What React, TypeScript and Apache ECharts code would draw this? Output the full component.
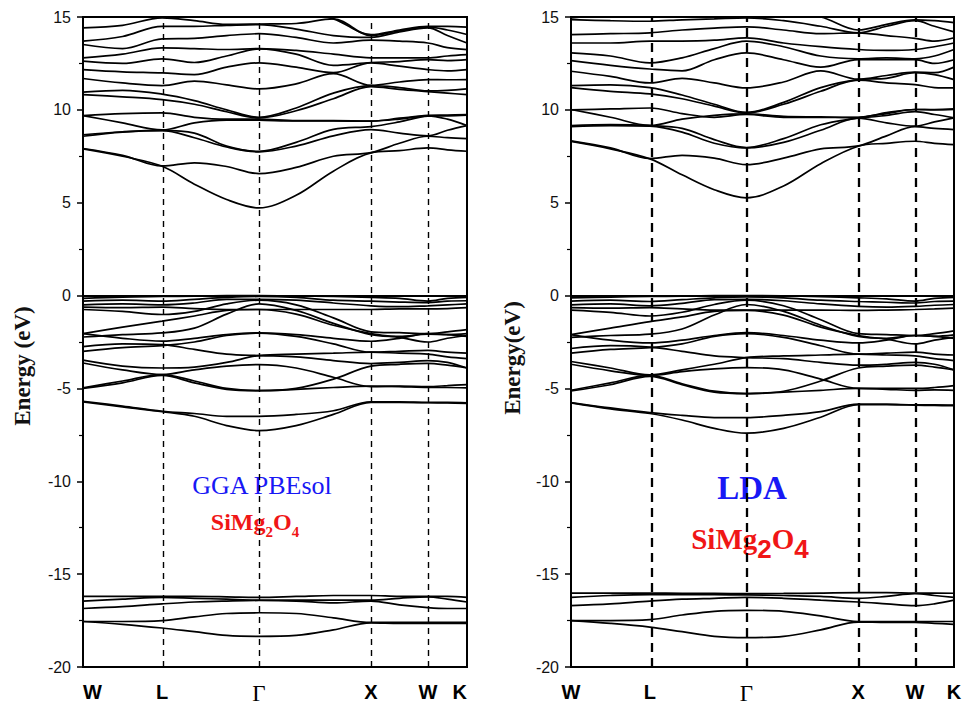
import React, { useEffect, useRef } from "react";
import * as echarts from "echarts";

// k-path sample positions (fraction of path length W-L-Γ-X-W-K)
const kPts = [0, 0.103, 0.206, 0.29, 0.374, 0.458, 0.555, 0.652, 0.75, 0.824, 0.898, 0.949, 1.0];
const symPts = [0, 0.206, 0.458, 0.75, 0.898, 1.0];
const symLabels = ["W", "L", "Γ", "X", "W", "K"];

// ---------- GGA PBEsol (left panel) ----------
const ggaCond = [
  [7.9, 7.5, 6.96, 6.0, 5.17, 4.72, 5.4, 6.7, 7.68, 7.8, 7.95, 7.85, 7.77],
  [7.92, 7.55, 6.98, 7.15, 6.95, 6.57, 6.9, 7.5, 7.7, 8.2, 8.58, 8.5, 8.45],
  [8.58, 8.8, 8.88, 8.5, 8.0, 7.74, 8.05, 8.6, 8.94, 8.75, 8.6, 8.9, 9.15],
  [8.66, 8.82, 8.9, 8.75, 8.05, 7.76, 8.25, 8.95, 9.1, 9.35, 9.66, 9.68, 9.72],
  [9.69, 9.3, 8.92, 9.3, 9.45, 9.44, 9.4, 9.4, 9.39, 9.55, 9.7, 9.72, 9.75],
  [9.69, 9.8, 9.84, 9.6, 9.5, 9.5, 9.42, 9.42, 9.4, 9.5, 9.68, 9.5, 9.15],
  [10.82, 10.7, 10.55, 10.3, 9.9, 9.57, 9.95, 10.6, 11.25, 11.1, 10.98, 10.9, 10.82],
  [10.95, 11.05, 10.85, 10.5, 10.0, 9.6, 10.1, 10.9, 11.3, 11.2, 11.02, 11.05, 11.13],
  [11.69, 11.45, 11.31, 11.55, 11.35, 11.13, 11.4, 11.95, 11.32, 11.5, 11.63, 11.62, 11.63],
  [12.17, 12.05, 11.99, 11.9, 12.3, 12.53, 12.3, 12.0, 12.53, 12.35, 12.17, 12.1, 12.17],
  [12.62, 12.5, 12.75, 12.55, 12.9, 13.28, 13.0, 12.4, 12.55, 12.6, 12.7, 12.65, 12.7],
  [12.8, 13.0, 13.34, 13.3, 13.25, 13.3, 13.2, 13.0, 12.8, 12.8, 12.8, 12.9, 12.97],
  [13.52, 13.3, 13.82, 13.85, 14.0, 14.1, 13.9, 13.6, 13.75, 13.7, 13.6, 13.35, 13.24],
  [13.7, 13.95, 14.5, 14.5, 14.55, 14.59, 14.35, 14.0, 13.9, 14.2, 14.41, 14.0, 13.6],
  [14.41, 14.55, 14.95, 14.8, 14.6, 14.62, 14.65, 14.9, 14.0, 14.25, 14.45, 14.3, 14.06],
  [15.2, 15.1, 15.0, 15.3, 15.5, 15.6, 15.3, 14.9, 14.05, 14.3, 14.5, 14.5, 14.45],
];
const ggaVal = [
  [-0.15, -0.08, -0.05, -0.03, 0.0, 0.0, -0.02, -0.05, -0.1, -0.15, -0.3, -0.15, -0.1],
  [-0.3, -0.25, -0.3, -0.2, -0.1, -0.05, -0.1, -0.25, -0.3, -0.35, -0.38, -0.3, -0.28],
  [-0.5, -0.45, -0.5, -0.4, -0.2, -0.2, -0.25, -0.4, -0.55, -0.6, -0.55, -0.5, -0.45],
  [-0.62, -0.65, -0.62, -0.7, -0.75, -0.75, -0.75, -0.75, -0.75, -0.72, -0.72, -0.7, -0.65],
  [-0.75, -0.85, -1.02, -0.85, -0.45, -0.25, -0.5, -1.2, -1.95, -2.0, -2.05, -1.95, -1.83],
  [-2.05, -1.7, -1.38, -1.1, -0.8, -0.75, -1.0, -1.6, -2.05, -2.25, -2.5, -2.3, -2.15],
  [-2.23, -2.1, -2.01, -1.75, -1.0, -0.45, -0.8, -1.5, -2.1, -2.2, -2.08, -2.1, -2.05],
  [-2.05, -2.3, -2.45, -2.3, -2.1, -2.01, -2.1, -2.3, -2.46, -2.3, -2.05, -2.1, -2.2],
  [-2.75, -2.6, -2.64, -2.9, -3.15, -3.23, -3.3, -3.5, -3.66, -3.6, -3.5, -3.6, -3.9],
  [-3.0, -2.8, -2.7, -2.5, -2.15, -2.02, -2.2, -2.6, -3.05, -3.0, -2.95, -3.05, -3.1],
  [-3.48, -3.8, -3.9, -3.85, -3.6, -3.23, -3.15, -3.1, -3.05, -3.1, -3.15, -3.3, -3.4],
  [-3.63, -4.0, -4.25, -4.0, -3.8, -3.72, -3.9, -4.4, -4.9, -4.88, -4.9, -4.85, -4.79],
  [-4.97, -4.6, -4.25, -4.6, -5.0, -5.12, -5.0, -4.5, -3.8, -3.7, -3.65, -3.75, -3.9],
  [-5.0, -4.7, -4.3, -4.7, -5.05, -5.12, -5.05, -4.95, -4.88, -4.9, -4.95, -4.95, -4.97],
  [-5.69, -5.95, -6.23, -6.35, -6.5, -6.5, -6.4, -6.2, -5.72, -5.72, -5.75, -5.75, -5.77],
  [-5.72, -6.0, -6.25, -6.5, -7.0, -7.27, -7.0, -6.4, -5.75, -5.75, -5.77, -5.78, -5.8],
];
const ggaO2s = [
  [-16.2, -16.2, -16.2, -16.2, -16.22, -16.25, -16.2, -16.15, -16.15, -16.2, -16.2, -16.2, -16.25],
  [-16.45, -16.35, -16.25, -16.3, -16.35, -16.4, -16.4, -16.4, -16.4, -16.3, -16.22, -16.35, -16.5],
  [-16.85, -16.75, -16.6, -16.5, -16.45, -16.42, -16.45, -16.55, -16.45, -16.65, -16.8, -16.85, -16.85],
  [-17.55, -17.55, -17.5, -17.3, -17.12, -17.08, -17.12, -17.35, -17.6, -17.6, -17.6, -17.6, -17.6],
  [-17.55, -17.7, -17.9, -18.1, -18.3, -18.35, -18.3, -18.0, -17.62, -17.65, -17.65, -17.65, -17.65],
];

// ---------- LDA (right panel) ----------
const ldaCond = [
  [8.3, 7.9, 7.36, 6.5, 5.7, 5.26, 5.9, 7.1, 8.04, 8.2, 8.31, 8.2, 8.13],
  [8.33, 7.95, 7.38, 7.55, 7.4, 7.05, 7.4, 7.9, 8.06, 8.6, 9.1, 9.0, 8.94],
  [9.1, 9.15, 9.12, 8.8, 8.2, 7.95, 8.25, 8.9, 9.55, 9.3, 9.12, 9.35, 9.57],
  [9.15, 9.2, 9.15, 9.0, 8.4, 7.97, 8.45, 9.2, 9.57, 9.8, 10.02, 10.0, 10.02],
  [10.0, 10.05, 10.1, 9.8, 9.6, 9.75, 9.6, 9.6, 9.6, 9.85, 10.02, 10.02, 10.05],
  [10.02, 9.6, 9.16, 9.5, 9.7, 9.78, 9.65, 9.62, 9.58, 9.7, 9.9, 9.75, 9.57],
  [11.2, 11.0, 10.86, 10.6, 10.2, 9.84, 10.3, 11.0, 11.6, 11.45, 11.36, 11.2, 11.18],
  [11.3, 11.35, 11.2, 10.8, 10.3, 9.86, 10.4, 11.2, 11.63, 11.7, 12.0, 11.9, 11.63],
  [12.08, 11.8, 11.45, 11.7, 11.45, 11.18, 11.5, 12.1, 11.65, 11.85, 12.03, 12.0, 12.3],
  [12.65, 12.4, 12.2, 12.1, 12.7, 13.07, 12.7, 12.3, 12.71, 12.7, 12.7, 12.5, 12.7],
  [13.07, 12.9, 12.53, 12.8, 13.3, 13.7, 13.4, 12.9, 12.75, 12.8, 12.75, 12.9, 13.25],
  [13.6, 13.6, 13.7, 13.7, 13.75, 13.88, 13.6, 13.4, 13.25, 13.2, 13.25, 13.4, 13.6],
  [14.05, 14.1, 14.15, 14.3, 14.4, 14.47, 14.3, 14.1, 14.15, 14.0, 13.85, 13.7, 13.88],
  [14.86, 14.8, 14.77, 14.85, 14.9, 14.95, 14.8, 14.5, 14.15, 14.5, 14.8, 14.5, 14.2],
  [14.95, 15.1, 15.2, 15.3, 15.3, 15.3, 15.2, 15.0, 14.3, 14.6, 14.85, 14.8, 14.7],
];
const ldaVal = [
  [-0.12, -0.08, -0.05, -0.03, 0.0, 0.0, -0.02, -0.06, -0.12, -0.18, -0.3, -0.15, -0.1],
  [-0.3, -0.25, -0.32, -0.22, -0.12, -0.07, -0.12, -0.25, -0.32, -0.36, -0.4, -0.32, -0.3],
  [-0.5, -0.45, -0.55, -0.42, -0.22, -0.2, -0.28, -0.45, -0.58, -0.62, -0.58, -0.52, -0.48],
  [-0.65, -0.68, -0.65, -0.72, -0.78, -0.78, -0.78, -0.78, -0.8, -0.78, -0.75, -0.72, -0.68],
  [-0.78, -0.9, -1.1, -0.9, -0.48, -0.25, -0.55, -1.3, -2.05, -2.1, -2.15, -2.05, -1.9],
  [-2.1, -1.75, -1.4, -1.15, -0.85, -0.8, -1.05, -1.7, -2.15, -2.35, -2.6, -2.4, -2.25],
  [-2.25, -2.15, -2.08, -1.8, -1.05, -0.48, -0.85, -1.6, -2.2, -2.3, -2.15, -2.2, -2.12],
  [-2.1, -2.4, -2.55, -2.4, -2.15, -2.0, -2.15, -2.4, -2.55, -2.4, -2.15, -2.2, -2.3],
  [-2.85, -2.7, -2.78, -3.0, -3.25, -3.34, -3.4, -3.6, -3.75, -3.7, -3.6, -3.7, -4.0],
  [-3.1, -2.9, -2.8, -2.6, -2.2, -2.05, -2.25, -2.7, -3.15, -3.1, -3.05, -3.15, -3.2],
  [-3.55, -3.9, -4.27, -4.0, -3.7, -3.34, -3.25, -3.2, -3.15, -3.2, -3.25, -3.4, -3.5],
  [-3.7, -4.05, -4.3, -4.1, -3.95, -3.88, -4.0, -4.5, -5.0, -5.0, -5.0, -4.95, -4.85],
  [-5.1, -4.7, -4.3, -4.75, -5.15, -5.28, -5.15, -4.6, -3.9, -3.8, -3.75, -3.85, -4.0],
  [-5.13, -4.8, -4.35, -4.8, -5.2, -5.28, -5.2, -5.1, -5.0, -5.05, -5.1, -5.08, -5.1],
  [-5.76, -6.05, -6.3, -6.45, -6.57, -6.57, -6.45, -6.25, -5.85, -5.85, -5.88, -5.88, -5.9],
  [-5.78, -6.1, -6.35, -6.7, -7.15, -7.41, -7.15, -6.55, -5.88, -5.88, -5.9, -5.92, -5.93],
];
const ldaO2s = [
  [-16.02, -16.02, -16.02, -16.03, -16.04, -16.05, -16.04, -16.02, -16.0, -16.0, -16.02, -16.02, -16.03],
  [-16.25, -16.15, -16.1, -16.1, -16.1, -16.12, -16.15, -16.2, -16.3, -16.2, -16.05, -16.15, -16.25],
  [-16.7, -16.6, -16.45, -16.35, -16.3, -16.25, -16.3, -16.4, -16.5, -16.6, -16.7, -16.6, -16.4],
  [-17.5, -17.5, -17.45, -17.2, -17.0, -16.95, -17.0, -17.25, -17.55, -17.55, -17.55, -17.55, -17.55],
  [-17.5, -17.65, -17.85, -18.1, -18.35, -18.42, -18.35, -18.0, -17.58, -17.6, -17.6, -17.65, -17.7],
];

const measure = (text: string, font: string) => {
  const ctx = document.createElement("canvas").getContext("2d") as CanvasRenderingContext2D;
  ctx.font = font;
  return ctx.measureText(text).width;
};

function formula(cx: number, cyMain: number, cySub: number, mainFont: string, subFont: string, color: string) {
  const parts: [string, boolean][] = [["SiMg", true], ["2", false], ["O", true], ["4", false]];
  const widths = parts.map(([t, m]) => measure(t, m ? mainFont : subFont));
  const total = widths.reduce((a, b) => a + b, 0);
  let x = cx - total / 2;
  return parts.map(([t, m], i) => {
    const el = {
      type: "text",
      x,
      y: m ? cyMain : cySub,
      silent: true,
      style: {
        text: t,
        font: m ? mainFont : subFont,
        fill: color,
        textAlign: "left",
        textVerticalAlign: "middle",
        align: "left",
        verticalAlign: "middle",
      },
    };
    x += widths[i];
    return el;
  });
}

function bandSeries(bands: number[][], gi: number) {
  return bands.map((b) => ({
    type: "line",
    xAxisIndex: gi,
    yAxisIndex: gi,
    data: b.map((e, i) => [kPts[i], e]),
    showSymbol: false,
    smooth: 0.35,
    silent: true,
    lineStyle: { color: "#000", width: 1.7 },
  }));
}

const labelFmt = (v: number) => {
  const i = symPts.findIndex((p) => Math.abs(p - v) < 1e-6);
  if (i < 0) return "";
  const s = symLabels[i];
  return s === "Γ" ? "{g|Γ}" : s;
};

function mkX(gi: number, alignEdges: boolean) {
  return {
    type: "value",
    gridIndex: gi,
    min: 0,
    max: 1,
    axisLine: { show: true, lineStyle: { color: "#000", width: 2 } },
    axisTick: { show: false },
    splitLine: { show: false },
    axisLabel: {
      customValues: symPts,
      formatter: labelFmt,
      fontFamily: "Liberation Sans",
      fontWeight: "bold",
      fontSize: 20,
      color: "#000",
      margin: 15,
      alignMinLabel: alignEdges ? "left" : "center",
      alignMaxLabel: alignEdges ? "right" : "center",
      rich: { g: { fontFamily: "Liberation Serif", fontWeight: "normal", fontSize: 23, color: "#000" } },
    },
  };
}

function mkY(gi: number) {
  return {
    type: "value",
    gridIndex: gi,
    min: -20,
    max: 15,
    interval: 5,
    axisLine: { show: true, lineStyle: { color: "#000", width: 2 } },
    axisTick: { show: true, inside: false, length: 6, lineStyle: { color: "#000", width: 1.5 } },
    minorTick: { show: true, splitNumber: 2, length: 4, lineStyle: { color: "#000", width: 1.2 } },
    splitLine: { show: false },
    minorSplitLine: { show: false },
    axisLabel: { fontFamily: "Liberation Sans", fontSize: 16, color: "#111", margin: 12 },
  };
}

function dashSeries(gi: number, width: number, dash: number[]) {
  return {
    type: "line",
    xAxisIndex: gi,
    yAxisIndex: gi,
    data: [],
    silent: true,
    markLine: {
      silent: true,
      symbol: "none",
      animation: false,
      label: { show: false },
      lineStyle: { color: "#000", width, type: dash },
      data: symPts.slice(1, -1).map((x) => ({ xAxis: x })),
    },
  };
}

export default function App() {
  const ref = useRef<HTMLDivElement>(null);
  useEffect(() => {
    if (!ref.current) return;
    const chart = echarts.init(ref.current, null, { renderer: "svg" });
    const blue = "#1818f5";
    const red = "#f01616";
    const option: any = {
      animation: false,
      backgroundColor: "#fff",
      grid: [
        { left: 83, top: 17, width: 384, height: 650, show: true, borderColor: "#000", borderWidth: 2, backgroundColor: "transparent" },
        { left: 571, top: 17, width: 383, height: 650, show: true, borderColor: "#000", borderWidth: 2, backgroundColor: "transparent" },
      ],
      xAxis: [mkX(0, true), mkX(1, false)],
      yAxis: [mkY(0), mkY(1)],
      series: [
        dashSeries(0, 1.4, [6, 5]),
        dashSeries(1, 2.3, [9, 6]),
        ...bandSeries(ggaCond, 0),
        ...bandSeries(ggaVal, 0),
        ...bandSeries(ggaO2s, 0),
        ...bandSeries(ldaCond, 1),
        ...bandSeries(ldaVal, 1),
        ...bandSeries(ldaO2s, 1),
      ],
      graphic: [
        {
          type: "text",
          x: 22,
          y: 366,
          rotation: Math.PI / 2,
          silent: true,
          style: {
            text: "Energy (eV)",
            font: 'bold 23px "Liberation Serif"',
            fill: "#111",
            textAlign: "center",
            textVerticalAlign: "middle",
            align: "center",
            verticalAlign: "middle",
          },
        },
        {
          type: "text",
          x: 512,
          y: 358,
          rotation: Math.PI / 2,
          silent: true,
          style: {
            text: "Energy(eV)",
            font: 'bold 23px "Liberation Serif"',
            fill: "#111",
            textAlign: "center",
            textVerticalAlign: "middle",
            align: "center",
            verticalAlign: "middle",
          },
        },
        {
          type: "text",
          x: 262,
          y: 485,
          silent: true,
          style: {
            text: "GGA PBEsol",
            font: '26px "Liberation Serif"',
            fill: blue,
            textAlign: "center",
            textVerticalAlign: "middle",
            align: "center",
            verticalAlign: "middle",
          },
        },
        ...formula(255, 522, 532, 'bold 24px "Liberation Serif"', 'bold 15px "Liberation Serif"', red),
        {
          type: "text",
          x: 752,
          y: 488,
          silent: true,
          style: {
            text: "LDA",
            font: 'bold 33px "Liberation Serif"',
            fill: blue,
            textAlign: "center",
            textVerticalAlign: "middle",
            align: "center",
            verticalAlign: "middle",
          },
        },
        ...formula(750, 539, 549, 'bold 29px "Liberation Serif"', 'bold 26px "Liberation Sans"', red),
      ],
    };
    chart.setOption(option);
    return () => chart.dispose();
  }, []);
  return <div ref={ref} style={{ position: "fixed", left: 0, top: 0, width: 966, height: 714 }} />;
}
